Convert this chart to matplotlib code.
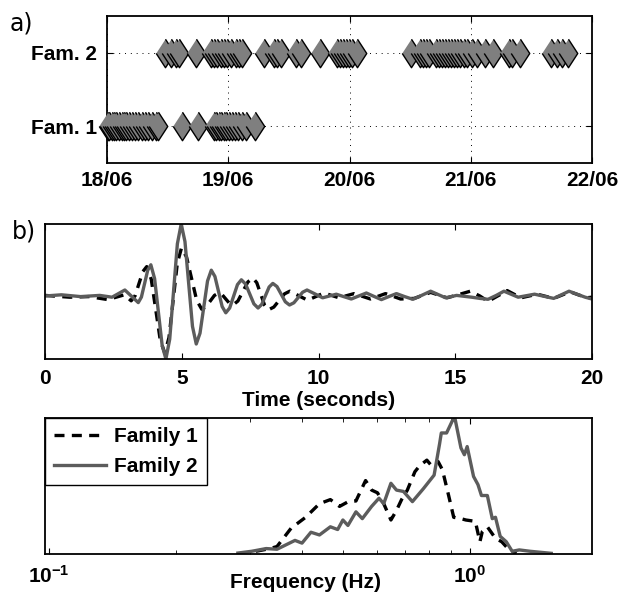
import numpy as np
import matplotlib
matplotlib.use("Agg")
import matplotlib.pyplot as plt
from matplotlib.ticker import LogLocator, NullFormatter, FixedLocator

plt.rcParams["font.family"] = ["Liberation Sans", "DejaVu Sans"]
plt.rcParams["mathtext.fontset"] = "custom"
plt.rcParams["mathtext.rm"] = "Liberation Sans"
plt.rcParams["mathtext.bf"] = "Liberation Sans:bold"

# ---- (a) event times, days after 18/06 ----
fam1_days = [0.008, 0.016, 0.039, 0.058, 0.077, 0.099, 0.121, 0.140, 0.159, 0.181,
             0.204, 0.231, 0.258, 0.286, 0.313, 0.341, 0.369, 0.402, 0.421,
             0.616, 0.753,
             0.882, 0.901, 0.924, 0.943, 0.965, 0.984, 1.006, 1.028, 1.056, 1.083,
             1.111, 1.144, 1.223]
fam2_days = [0.478, 0.525, 0.567, 0.594, 0.734,
             0.855, 0.883, 0.910, 0.938, 0.965, 0.992, 1.020, 1.061, 1.088, 1.113,
             1.295, 1.377, 1.402, 1.435, 1.559, 1.600, 1.757,
             1.897, 1.922, 1.946, 1.971, 1.996, 2.021, 2.059,
             2.507, 2.581, 2.606, 2.631, 2.656, 2.713, 2.738, 2.763, 2.788, 2.812,
             2.837, 2.862, 2.887, 2.911, 2.944, 2.969, 3.010, 3.052, 3.118, 3.184,
             3.315, 3.340, 3.406,
             3.659, 3.714, 3.753, 3.800]
day_ticks = [0, 1, 2, 3, 4]
day_labels = ["18/06", "19/06", "20/06", "21/06", "22/06"]
fam_labels = ["Fam. 1", "Fam. 2"]

# ---- (b) stacked waveforms ----
t_fam1 = [0.0, 0.9, 1.6, 2.3, 2.9, 3.15, 3.2925, 3.435, 3.5775, 3.72,
          3.885, 4.05, 4.215, 4.38, 4.5325, 4.685, 4.8375, 4.99,
          5.175, 5.36, 5.545, 5.73, 5.885, 6.04, 6.195, 6.35,
          6.48, 6.61, 6.74, 6.87, 7.0525, 7.235, 7.4175, 7.6,
          7.7425, 7.885, 8.0275, 8.17, 8.365, 8.56, 8.755, 8.95,
          9.275, 9.6, 9.9, 10.2, 10.75, 11.3, 11.9, 12.45, 13.0, 13.5, 14.1,
          14.7, 15.1, 15.55, 15.9, 16.2, 16.55, 16.9, 17.4, 18.0, 18.6, 19.2, 19.8, 20.0]
w_fam1 = [0.01, -0.02, -0.01, -0.06, 0.02, -0.08, 0.003, 0.205, 0.407, 0.49,
          0.279, -0.23, -0.739, -0.95, -0.694, -0.075, 0.544, 0.80,
          0.65, 0.29, -0.07, -0.22, -0.18, -0.085, 0.01, 0.05,
          0.02, -0.05, -0.12, -0.15, -0.084, 0.075, 0.234, 0.30,
          0.222, 0.035, -0.152, -0.23, -0.185, -0.075, 0.035, 0.08,
          0.005, -0.07, -0.01, 0.05, -0.03, 0.04, -0.05, 0.04, -0.05, -0.04, 0.06,
          -0.03, 0.02, 0.08, 0.0, -0.09, 0.0, 0.09, -0.03, 0.03, -0.04, 0.07, -0.03, -0.02]
t_fam2 = [0.0, 0.6, 1.3, 2.0, 2.45, 2.92, 3.165, 3.41, 3.525, 3.64, 3.755, 3.87,
          4.0075, 4.145, 4.2825, 4.42, 4.56, 4.70, 4.84, 4.98,
          5.1175, 5.255, 5.3925, 5.53, 5.6675, 5.805, 5.9425, 6.08,
          6.2125, 6.345, 6.4775, 6.61, 6.7525, 6.895, 7.0375, 7.18,
          7.3325, 7.485, 7.6375, 7.79, 7.925, 8.06, 8.195, 8.33,
          8.4825, 8.635, 8.7875, 8.94, 9.1, 9.26, 9.42, 9.58, 9.87,
          10.15, 10.4, 10.65, 10.92, 11.2, 11.47, 11.75, 12.02, 12.3, 12.57, 12.85,
          13.15, 13.45, 13.77, 14.1, 14.37, 14.65, 15.05,
          15.6, 15.9, 16.2, 16.5, 16.78, 17.04, 17.3, 17.9, 18.25, 18.6, 18.88, 19.16,
          19.45, 19.75, 20.0]
w_fam2 = [0.0, 0.02, -0.01, 0.01, -0.02, 0.10, -0.005, -0.11, -0.018, 0.205, 0.428, 0.52,
          0.29, -0.265, -0.82, -1.05, -0.72, 0.075, 0.87, 1.20,
          0.907, 0.2, -0.507, -0.80, -0.62, -0.185, 0.25, 0.43,
          0.326, 0.075, -0.176, -0.28, -0.2, -0.005, 0.19, 0.27,
          0.2, 0.035, -0.131, -0.20, -0.14, 0.005, 0.15, 0.21,
          0.157, 0.03, -0.097, -0.15, -0.113, -0.025, 0.063, 0.10, 0.035,
          -0.03, 0.0, 0.03, -0.01, -0.05, 0.0, 0.05, -0.005, -0.06, -0.01, 0.04,
          -0.01, -0.055, 0.01, 0.08, 0.025, -0.03, 0.01,
          -0.02, -0.04, -0.055, 0.01, 0.08, 0.03, -0.02, 0.03, -0.005, -0.04, 0.02, 0.08,
          0.03, -0.02, -0.05]

# ---- (c) spectra ----
f_fam1 = [0.31, 0.335, 0.348, 0.376, 0.407, 0.439, 0.466, 0.49, 0.514, 0.536,
          0.565, 0.584, 0.603, 0.624, 0.649, 0.669, 0.688, 0.71, 0.74, 0.76,
          0.79, 0.81, 0.84, 0.86, 0.89, 0.915, 0.952, 0.978, 1.03, 1.056,
          1.07, 1.10, 1.15, 1.19, 1.24, 1.29]
s_fam1 = [0.02, 0.04, 0.055, 0.19, 0.27, 0.37, 0.40, 0.35, 0.385, 0.39,
          0.54, 0.47, 0.45, 0.37, 0.25, 0.32, 0.40, 0.47, 0.605, 0.65,
          0.69, 0.65, 0.68, 0.62, 0.43, 0.27, 0.26, 0.25, 0.24, 0.09,
          0.165, 0.20, 0.115, 0.09, 0.03, 0.005]
f_fam2 = [0.281, 0.303, 0.328, 0.348, 0.384, 0.399, 0.419, 0.439, 0.466, 0.485,
          0.499, 0.513, 0.536, 0.555, 0.584, 0.608, 0.624, 0.649, 0.669, 0.695,
          0.73, 0.775, 0.822, 0.847, 0.855, 0.88, 0.91, 0.921, 0.952, 0.97,
          0.985, 1.02, 1.045, 1.065, 1.10, 1.13, 1.15, 1.18, 1.22, 1.26,
          1.31, 1.39, 1.56]
s_fam2 = [0.007, 0.02, 0.04, 0.035, 0.10, 0.08, 0.16, 0.14, 0.20, 0.18,
          0.25, 0.21, 0.31, 0.26, 0.35, 0.41, 0.37, 0.52, 0.47, 0.46,
          0.385, 0.48, 0.58, 0.81, 0.89, 0.89, 0.985, 1.0, 0.78, 0.73,
          0.79, 0.57, 0.51, 0.43, 0.43, 0.26, 0.27, 0.13, 0.09, 0.02,
          0.03, 0.02, 0.005]

W, H = 621, 596
fig = plt.figure(figsize=(W / 100, H / 100), dpi=100)


def box(l, t, r, b):
    return [l / W, 1 - b / H, (r - l) / W, (b - t) / H]


GRAY = "0.36"
BOLD = dict(fontsize=15, fontweight="bold")
diamond = [(0, 1), (0.65, 0), (0, -1), (-0.65, 0)]

# (a) event timeline
ax1 = fig.add_axes(box(107, 16, 592, 163))
for y, days in [(1, fam1_days), (2, fam2_days)]:
    ax1.plot(days, [y] * len(days), linestyle="none", marker=diamond, ms=20.5,
             mfc="#7f7f7f", mec="k", mew=1.0, clip_on=False, zorder=3)
ax1.set_xlim(day_ticks[0], day_ticks[-1])
ax1.set_ylim(0.5, 2.5)
ax1.set_xticks(day_ticks)
ax1.set_xticklabels(day_labels, **BOLD)
ax1.set_yticks([1, 2])
ax1.set_yticklabels(fam_labels, **BOLD)
ax1.tick_params(axis="x", direction="in", top=True, length=4, pad=5.5)
ax1.tick_params(axis="y", direction="in", right=True, length=4, pad=7)
ax1.grid(True, color="k", lw=0.7, linestyle=(0, (1, 5)))

# (b) waveforms
ax2 = fig.add_axes(box(45, 224, 592, 359))
ax2.plot(t_fam1, w_fam1, color="k", lw=2.4, linestyle=(0, (3, 2.2)))
ax2.plot(t_fam2, w_fam2, color=GRAY, lw=2.4)
ax2.set_xlim(0, 20)
ax2.set_ylim(min(w_fam2), max(w_fam2))
ax2.set_xticks([0, 5, 10, 15, 20])
ax2.set_xticklabels(["0", "5", "10", "15", "20"], **BOLD)
ax2.set_yticks([])
ax2.tick_params(axis="x", direction="in", top=True, length=4, pad=7)
ax2.set_xlabel("Time (seconds)", **BOLD)
ax2.xaxis.set_label_coords(0.5, -(390.5 - 359) / 135)

# (c) spectra
ax3 = fig.add_axes(box(45, 418, 592, 554))
ax3.plot(f_fam1, s_fam1, color="k", lw=2.4, linestyle=(0, (3, 2.2)), label="Family 1")
ax3.plot(f_fam2, s_fam2, color=GRAY, lw=2.4, label="Family 2")
ax3.set_xscale("log")
ax3.set_xlim(0.0978, 1.95)
ax3.set_ylim(0, max(s_fam2))
ax3.xaxis.set_major_locator(FixedLocator([0.1, 1.0]))
ax3.set_xticklabels([r"$\mathbf{10^{-1}}$", r"$\mathbf{10^{0}}$"], fontsize=15)
ax3.xaxis.set_minor_locator(LogLocator(base=10, subs=np.arange(2, 10)))
ax3.xaxis.set_minor_formatter(NullFormatter())
ax3.set_yticks([])
ax3.tick_params(axis="x", which="major", direction="in", top=True, length=4, pad=8)
ax3.tick_params(axis="x", which="minor", direction="in", top=True, length=3)
ax3.set_xlabel("Frequency (Hz)", **BOLD)
ax3.xaxis.set_label_coords((306 - 45) / 547, -(573 - 554) / 136)
leg = ax3.legend(loc="upper left", borderaxespad=0, fancybox=False, framealpha=1,
                 edgecolor="k", handlelength=2.5, handletextpad=0.35,
                 labelspacing=0.5, borderpad=0.45,
                 prop=dict(size=15, weight="bold"))
leg.get_frame().set_linewidth(1.0)

for ax in (ax1, ax2, ax3):
    for s in ax.spines.values():
        s.set_linewidth(1.3)

fig.text(10 / W, 1 - 24 / H, "a)", fontsize=17, family="DejaVu Sans", va="center")
fig.text(12 / W, 1 - 232 / H, "b)", fontsize=17, family="DejaVu Sans", va="center")

fig.savefig("out.png", dpi=100)
